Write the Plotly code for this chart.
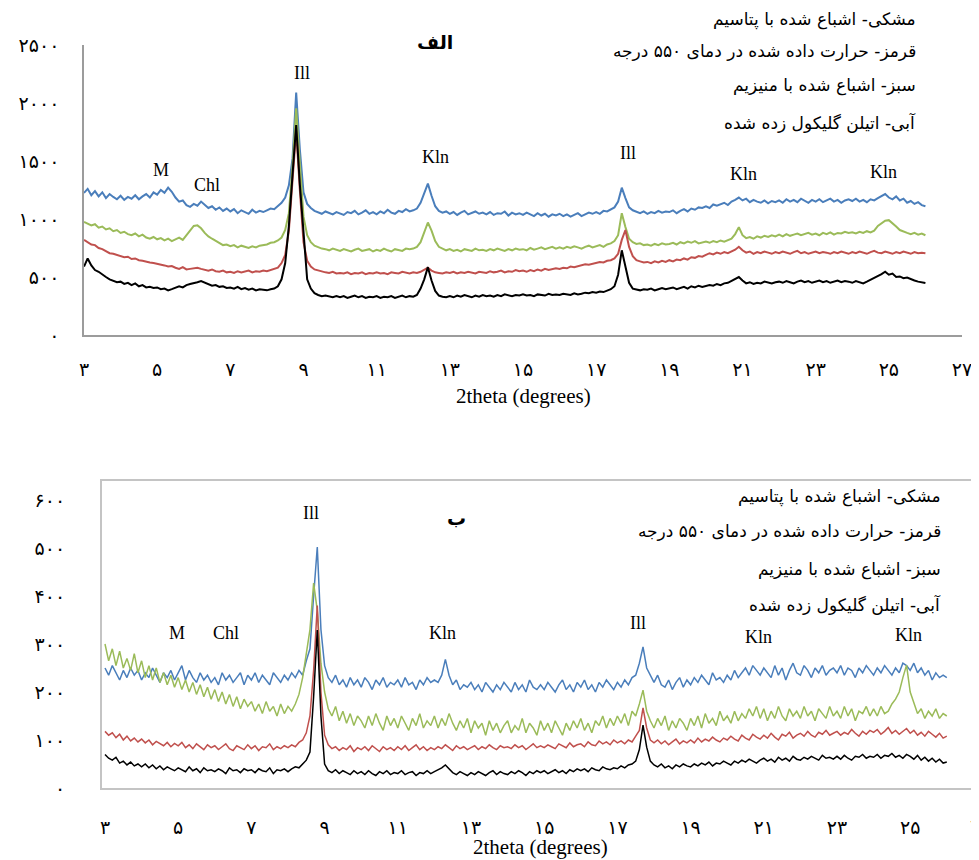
import plotly.graph_objects as go

# page is 979x860; the HTML body adds an 8px margin, so the figure is drawn 8px in
OFF = 8
W, H = 979 - OFF, 860 - OFF

# ---------------- data (counts) ----------------
two_theta_start = 3.0
two_theta_step = 0.1

# Panel "الف"
top_blue = [
    1225, 1260, 1205, 1240, 1195, 1230, 1180, 1215, 1190, 1170,
    1200, 1165, 1190, 1175, 1205, 1170, 1195, 1215, 1185, 1230,
    1210, 1250, 1225, 1270, 1235, 1185, 1150, 1160, 1120, 1105,
    1130, 1115, 1150, 1125, 1095, 1110, 1080, 1100, 1070, 1090,
    1065, 1085, 1050, 1075, 1060, 1045, 1080, 1055, 1070, 1060,
    1075, 1090, 1085, 1110, 1140, 1185, 1290, 1520, 2090, 1600,
    1230, 1130, 1095, 1070, 1060, 1045, 1065, 1050, 1040, 1060,
    1045, 1035, 1060, 1050, 1070, 1040, 1055, 1075, 1045, 1060,
    1040, 1065, 1050, 1080, 1055, 1045, 1070, 1060, 1085, 1065,
    1075, 1090, 1140, 1220, 1305, 1200, 1110, 1070, 1055, 1065,
    1045, 1060, 1035, 1055, 1070, 1040, 1050, 1065, 1045, 1055,
    1040, 1060, 1035, 1050, 1045, 1065, 1030, 1055, 1040, 1050,
    1035, 1055, 1040, 1025, 1050, 1030, 1045, 1020, 1040, 1030,
    1045, 1025, 1040, 1020, 1035, 1050, 1025, 1040, 1055, 1045,
    1060, 1045, 1070, 1065, 1080, 1100, 1150, 1270, 1180, 1100,
    1075, 1060, 1050, 1065, 1045, 1060, 1050, 1070, 1055, 1065,
    1060, 1075, 1050, 1070, 1085, 1065, 1090, 1080, 1100, 1095,
    1110, 1095, 1125, 1115, 1130, 1140, 1120, 1150, 1165, 1185,
    1160, 1175, 1145, 1165, 1150, 1140, 1160, 1135, 1155, 1145,
    1160, 1140, 1170, 1150, 1165, 1145, 1175, 1155, 1140, 1165,
    1150, 1170, 1145, 1160, 1175, 1150, 1165, 1140, 1160, 1170,
    1155, 1175, 1150, 1165, 1145, 1170, 1160, 1180, 1195, 1215,
    1185, 1170, 1195, 1160, 1175, 1140, 1155, 1130, 1145, 1120,
    1110,
]
top_green = [
    975, 960, 945, 955, 925, 935, 910, 920, 895, 905,
    880, 890, 870, 860, 875, 850, 865, 840, 830, 845,
    825, 835, 815, 830, 810, 825, 840, 820, 860, 895,
    940, 945, 920, 880, 850, 830, 810, 790, 775, 780,
    765, 775, 755, 770, 760, 750, 765, 755, 770, 775,
    780, 795, 800, 815, 840, 905, 1050, 1450, 1955, 1480,
    1020, 860, 800, 770, 755, 745, 740, 730, 745, 735,
    725, 740, 730, 720, 735, 745, 725, 730, 740, 720,
    735, 725, 745, 730, 720, 740, 735, 725, 745, 740,
    745, 760, 800, 880, 970, 900, 810, 760, 745, 730,
    740, 725, 735, 720, 740, 730, 725, 745, 730, 735,
    725, 740, 730, 745, 735, 725, 740, 730, 745, 735,
    740, 730, 750, 735, 745, 755, 740, 750, 760, 745,
    755, 745, 760, 750, 765, 755, 745, 760, 770, 755,
    765, 775, 760, 780, 790, 810, 860, 1050, 930, 830,
    800, 785, 790, 775, 780, 770, 785, 775, 790, 780,
    785, 795, 780, 800, 790, 805, 795, 810, 790, 800,
    805, 795, 810, 800, 815, 805, 820, 830, 870, 930,
    860, 835, 845, 830, 850, 840, 855, 845, 860, 850,
    865, 850, 870, 855, 865, 875, 860, 870, 880, 865,
    875, 860, 880, 870, 885, 865, 880, 875, 890, 880,
    885, 875, 890, 880, 895, 885, 900, 940, 965, 985,
    990, 965, 935, 905, 890, 880, 870, 880, 865, 875,
    860,
]
top_red = [
    820, 800, 780, 775, 750, 740, 725, 705, 700, 690,
    680, 670, 675, 655, 660, 645, 640, 630, 625, 620,
    615, 605, 600, 590, 595, 580, 570, 585, 565, 570,
    575, 580, 570, 560, 555, 565, 550, 545, 555, 540,
    545, 535, 550, 540, 545, 555, 540, 550, 545, 555,
    550, 560, 565, 580, 620, 690, 900, 1300, 1765, 1250,
    800, 640, 590, 565, 555, 545, 540, 535, 545, 530,
    535, 530, 540, 525, 535, 530, 540, 525, 535, 530,
    540, 530, 535, 525, 540, 535, 530, 545, 535, 530,
    540, 535, 545, 560, 580, 555, 540, 535, 530, 540,
    535, 545, 530, 540, 535, 545, 540, 530, 545, 540,
    535, 550, 540, 545, 555, 540, 550, 545, 560, 550,
    555, 545, 560, 550, 565, 555, 570, 560, 565, 575,
    570, 580, 575, 590, 585, 595, 600, 610, 605, 615,
    620, 630, 625, 640, 645, 660, 700, 820, 905, 760,
    680, 645, 635, 625, 630, 620, 635, 625, 640, 630,
    645, 635, 650, 645, 660, 650, 670, 665, 680, 675,
    690, 705, 695, 710, 700, 715, 705, 720, 735, 760,
    730, 710, 720, 700, 715, 705, 720, 710, 700, 715,
    705, 720, 710, 700, 715, 725, 705, 715, 700, 710,
    720, 705, 715, 710, 700, 715, 705, 720, 710, 700,
    715, 705, 720, 710, 700, 715, 725, 710, 705, 720,
    710, 700, 715, 705, 720, 710, 700, 715, 705, 710,
    705,
]
top_black = [
    590, 660, 600, 560, 545, 520, 500, 480, 470, 455,
    460, 440, 450, 430, 445, 420, 430, 410, 415, 405,
    410, 395, 400, 385, 395, 405, 420, 410, 430, 440,
    445, 455, 465, 450, 440, 425, 430, 415, 420, 405,
    410, 400, 415, 395, 405, 390, 400, 385, 395, 390,
    385, 395, 400, 420, 480, 620, 940, 1380, 1810, 1300,
    850, 480, 400, 360, 345, 335, 340, 330, 325, 335,
    325, 335, 320, 330, 340, 325, 335, 320, 330, 325,
    335, 320, 330, 325, 335, 320, 330, 340, 325, 335,
    330, 345, 400, 480, 585, 470, 380, 340, 330, 325,
    335, 325, 340, 330, 345, 335, 325, 340, 330, 345,
    335, 340, 330, 345, 335, 350, 340, 335, 345, 340,
    350, 340, 345, 335, 350, 345, 340, 355, 345, 350,
    345, 355, 350, 345, 360, 350, 355, 365, 360, 370,
    365, 375, 370, 385, 395, 420, 520, 730, 580, 450,
    400, 390, 385, 395, 390, 400, 385, 395, 405, 395,
    400, 410, 395, 405, 415, 400, 420, 410, 425, 415,
    420, 430, 425, 440, 430, 445, 450, 465, 480, 500,
    470, 445, 455, 440, 450, 445, 460, 450, 445, 455,
    460, 450, 465, 455, 445, 460, 470, 455, 465, 450,
    460, 470, 455, 465, 450, 460, 470, 455, 465, 460,
    450, 465, 455, 445, 460, 475, 490, 510, 525, 545,
    520, 530, 500, 505, 490, 495, 480, 470, 460, 455,
    448,
]

# Panel "ب"
bot_blue = [
    250, 235, 255, 240, 225, 245, 230, 250, 235, 245,
    225, 240, 230, 250, 235, 220, 240, 230, 245, 225,
    240, 255, 225, 245, 230, 220, 240, 225, 235, 220,
    230, 215, 240, 225, 235, 220, 230, 240, 215, 235,
    225, 240, 220, 235, 225, 215, 240, 230, 220, 235,
    225, 240, 230, 245, 235, 265, 290, 400, 502, 330,
    255, 230, 220, 235, 215, 225, 210, 230, 215, 225,
    210, 230, 220, 205, 225, 215, 230, 210, 220, 215,
    225, 210, 230, 215, 220, 205, 225, 215, 230, 220,
    225, 220, 235, 268, 235, 215, 225, 205, 215, 210,
    220, 205, 215, 200, 220, 210, 200, 215, 205, 220,
    210, 200, 220, 205, 215, 200, 225, 210, 205, 215,
    205, 220, 210, 200, 215, 225, 205, 215, 200, 220,
    210, 225, 205, 215, 200, 220, 210, 225, 215, 205,
    220, 210, 225, 215, 230, 235, 260, 294, 250, 235,
    220, 235, 215, 210, 225, 205, 220, 230, 210, 225,
    215, 230, 220, 235, 225, 215, 240, 225, 230, 220,
    235, 225, 245, 230, 240, 250, 235, 255, 245, 235,
    250, 240, 230, 255, 235, 250, 225, 245, 260, 240,
    235, 255, 245, 230, 250, 240, 255, 235, 245, 250,
    240, 255, 235, 250, 245, 230, 250, 240, 255, 245,
    235, 250, 240, 255, 245, 235, 250, 240, 260, 255,
    245, 260, 240, 250, 235, 245, 225, 240, 230, 235,
    230,
]
bot_green = [
    300, 265, 290, 255, 285, 250, 270, 245, 280, 240,
    265, 230, 255, 225, 250, 220, 240, 215, 235, 210,
    230, 205, 225, 200, 220, 195, 215, 190, 210, 185,
    205, 180, 200, 175, 195, 170, 190, 165, 185, 170,
    180, 160, 175, 155, 180, 160, 170, 150, 175, 155,
    170, 160, 175, 195, 230, 280, 330, 427, 370, 260,
    200, 165, 150, 170, 140, 160, 135, 155, 130, 150,
    140, 125, 150, 130, 155, 135, 120, 150, 130, 145,
    125, 150, 135, 120, 145, 130, 155, 125, 140, 130,
    150, 125, 145, 130, 155, 135, 120, 140, 125, 145,
    115, 140, 125, 135, 110, 140, 120, 135, 115, 130,
    140, 115, 130, 120, 145, 115, 135, 125, 110, 140,
    120, 135, 115, 140, 125, 110, 135, 120, 140, 125,
    145, 120, 135, 115, 140, 130, 150, 125, 145, 130,
    150, 135, 155, 130, 160, 150, 175, 204, 160, 140,
    125, 145, 130, 150, 120, 140, 125, 145, 135, 120,
    145, 130, 150, 125, 155, 135, 145, 130, 160, 140,
    150, 135, 160, 140, 155, 145, 165, 150, 170, 145,
    165, 140, 160, 145, 170, 150, 140, 165, 150, 160,
    145, 170, 150, 160, 140, 165, 155, 145, 170, 150,
    160, 145, 170, 150, 165, 140, 160, 155, 170, 150,
    165, 150, 170, 155, 160, 175, 185, 200, 230, 256,
    200, 175, 155, 165, 145, 160, 150, 165, 145, 155,
    150,
]
bot_red = [
    118, 110, 115, 105, 112, 100, 108, 98, 104, 96,
    102, 94, 100, 90, 97, 92, 88, 95, 86, 93,
    88, 95, 84, 90, 82, 92, 86, 80, 90, 84,
    88, 80, 86, 92, 82, 78, 88, 84, 80, 90,
    82, 88, 78, 86, 84, 92, 80, 86, 82, 88,
    84, 90, 86, 95, 100, 115, 150, 245, 380, 200,
    110, 90, 82, 86, 78, 84, 80, 88, 76, 84,
    80, 86, 78, 88, 82, 76, 86, 80, 84, 78,
    86, 80, 88, 78, 84, 90, 80, 86, 78, 84,
    80, 86, 82, 90, 84, 78, 88, 82, 86, 80,
    84, 88, 80, 86, 82, 90, 84, 80, 88, 84,
    86, 82, 90, 84, 88, 80, 86, 92, 84, 88,
    84, 90, 86, 82, 92, 88, 84, 94, 86, 90,
    92, 86, 96, 90, 88, 98, 92, 96, 90, 100,
    94, 98, 92, 100, 96, 108, 120, 167, 125, 100,
    94, 100, 92, 98, 90, 96, 102, 92, 98, 94,
    100, 94, 104, 96, 102, 98, 106, 100, 96, 104,
    100, 108, 102, 98, 110, 104, 100, 112, 106, 102,
    110, 104, 114, 106, 100, 112, 108, 116, 104, 110,
    114, 108, 118, 110, 106, 116, 112, 120, 110, 114,
    118, 110, 116, 112, 122, 114, 108, 118, 112, 120,
    116, 122, 112, 118, 126, 114, 120, 112, 118, 124,
    114, 120, 110, 116, 108, 118, 112, 106, 114, 104,
    108,
]
bot_black = [
    70, 62, 58, 64, 52, 56, 48, 54, 46, 50,
    44, 50, 42, 48, 40, 46, 38, 44, 40, 36,
    42, 38, 34, 44, 36, 40, 32, 42, 36, 38,
    34, 40, 36, 30, 42, 36, 38, 32, 40, 36,
    38, 32, 40, 36, 34, 42, 30, 38, 36, 40,
    34, 40, 44, 42, 50, 58, 75, 190, 329, 150,
    50, 36, 32, 38, 30, 36, 32, 28, 36, 30,
    34, 28, 36, 30, 26, 34, 30, 36, 28, 32,
    30, 36, 28, 32, 34, 26, 32, 30, 36, 30,
    34, 38, 42, 48, 40, 32, 28, 34, 30, 26,
    32, 28, 34, 30, 26, 32, 36, 28, 34, 30,
    28, 34, 30, 36, 32, 26, 34, 30, 36, 32,
    36, 30, 34, 38, 32, 36, 30, 38, 34, 40,
    36, 40, 34, 42, 38, 36, 44, 40, 38, 42,
    40, 46, 42, 48, 50, 56, 80, 131, 85, 56,
    48, 44, 50, 42, 46, 40, 48, 44, 50, 46,
    44, 50, 46, 52, 48, 54, 46, 52, 50, 56,
    52, 48, 56, 52, 58, 54, 60, 56, 52, 58,
    62, 56, 60, 54, 64, 58, 62, 56, 66, 60,
    58, 64, 60, 66, 62, 58, 68, 62, 64, 60,
    66, 60, 68, 62, 58, 66, 64, 70, 62, 66,
    64, 70, 62, 68, 66, 72, 64, 68, 62, 70,
    66, 60, 68, 58, 64, 56, 62, 54, 60, 52,
    54,
]

x_tick_vals = [3, 5, 7, 9, 11, 13, 15, 17, 19, 21, 23, 25, 27]
top_y_ticks = [0, 500, 1000, 1500, 2000, 2500]
bot_y_ticks = [0, 100, 200, 300, 400, 500, 600]

legend_lines = [
    "مشکی- اشباع شده با پتاسیم",
    "قرمز- حرارت داده شده در دمای ۵۵۰ درجه",
    "سبز- اشباع شده با منیزیم",
    "آبی- اتیلن گلیکول زده شده",
]
top_title = "الف"
bot_title = "ب"
x_title = "2theta (degrees)"

# ---------------- helpers ----------------
FA = str.maketrans("0123456789", "۰۱۲۳۴۵۶۷۸۹")


def fa(n):
    return str(n).translate(FA)


def px(x):
    # screen pixel -> paper fraction
    return (x - OFF) / W


def py(y):
    return 1 - (y - OFF) / H


n = len(top_blue)
two_theta = [round(two_theta_start + i * two_theta_step, 2) for i in range(n)]

C_BLUE = "#4A7EBB"
C_GREEN = "#9BBB59"
C_RED = "#C0504D"
C_BLACK = "#000000"

fig = go.Figure()

for ys, c in [(top_blue, C_BLUE), (top_green, C_GREEN), (top_red, C_RED), (top_black, C_BLACK)]:
    fig.add_trace(go.Scatter(x=two_theta, y=ys, mode="lines", xaxis="x", yaxis="y",
                             line=dict(color=c, width=2), showlegend=False, hoverinfo="skip"))
for ys, c in [(bot_blue, C_BLUE), (bot_green, C_GREEN), (bot_red, C_RED), (bot_black, C_BLACK)]:
    fig.add_trace(go.Scatter(x=two_theta, y=ys, mode="lines", xaxis="x2", yaxis="y2",
                             line=dict(color=c, width=1.5), showlegend=False, hoverinfo="skip"))

DIG_FONT = dict(family="DejaVu Sans", size=19, color="#000000")

# Top axes (screen px): x=3 at 84, x=27 at 962 ; y=0 at 335, 2500 at 45
top_x_dom = [px(84), px(962)]
top_y_dom = [py(335), py(45)]
# Bottom axes: x=3 at 105px, 36.6 px/deg ; y=0 at 788px, 0.48 px/count
b_left, b_right = 102, 979
b_x0 = 3 + (b_left - 105) / 36.6
b_x1 = 3 + (b_right - 105) / 36.6
b_top_val = (788 - 481) / 0.48

common = dict(showgrid=False, zeroline=False, showline=True, ticks="",
              tickfont=DIG_FONT, automargin=False)

fig.update_layout(
    width=W, height=H,
    margin=dict(l=0, r=0, t=0, b=0),
    paper_bgcolor="white", plot_bgcolor="white",
    xaxis=dict(domain=top_x_dom, range=[3, 27], anchor="y",
               tickvals=x_tick_vals, ticktext=[fa(v) for v in x_tick_vals],
               linecolor="#9C9C9C", linewidth=1.5, ticklabelstandoff=16, **common),
    yaxis=dict(domain=top_y_dom, range=[0, 2500], anchor="x",
               tickvals=top_y_ticks, ticktext=[fa(v) for v in top_y_ticks],
               linecolor="#9C9C9C", linewidth=1.5, ticklabelstandoff=19, **common),
    xaxis2=dict(domain=[px(b_left), 1], range=[b_x0, b_x1], anchor="y2",
                tickvals=x_tick_vals, ticktext=[fa(v) for v in x_tick_vals],
                mirror=True, linecolor="#C4C4C4", linewidth=2,
                ticklabelstandoff=21, **common),
    yaxis2=dict(domain=[py(788), py(481)], range=[0, b_top_val], anchor="x2",
                tickvals=bot_y_ticks, ticktext=[fa(v) for v in bot_y_ticks],
                mirror=True, linecolor="#C4C4C4", linewidth=2,
                ticklabelstandoff=31, **common),
)

ann = []


def label(text, x, y, size=18, family="Liberation Serif", anchor="center", bold=False):
    t = f"<b>{text}</b>" if bold else text
    ann.append(dict(text=t, x=px(x), y=py(y), xref="paper", yref="paper",
                    xanchor=anchor, yanchor="middle", showarrow=False,
                    font=dict(family=family, size=size, color="#000000")))


# peak labels - top
for t, x, y in [("M", 161, 170), ("Chl", 207, 185), ("Ill", 302, 73), ("Kln", 435, 157),
                ("Ill", 628, 153), ("Kln", 743, 174), ("Kln", 883, 172)]:
    label(t, x, y)
# peak labels - bottom
for t, x, y in [("Ill", 311, 513), ("M", 177, 633), ("Chl", 226, 633), ("Kln", 442, 633),
                ("Ill", 638, 623), ("Kln", 758, 637), ("Kln", 908, 635)]:
    label(t, x, y)

# titles
label(top_title, 435, 42, size=19, family="DejaVu Sans", bold=True)
label(bot_title, 456, 518, size=19, family="DejaVu Sans", bold=True)

# legend texts
for t, y in zip(legend_lines, [19, 51, 86, 122]):
    label(t, 918, y, size=17, family="DejaVu Sans", anchor="right")
for t, y in zip(legend_lines, [496, 531, 569, 604]):
    label(t, 943, y, size=17, family="DejaVu Sans", anchor="right")

# axis titles
label(x_title, 523, 396, size=21)
label(x_title, 540, 847, size=21)

# partially visible last tick of the lower panel
label(fa(27), 980, 826, size=19, family="DejaVu Sans")

fig.update_layout(annotations=ann)

fig.write_html("out.html")
